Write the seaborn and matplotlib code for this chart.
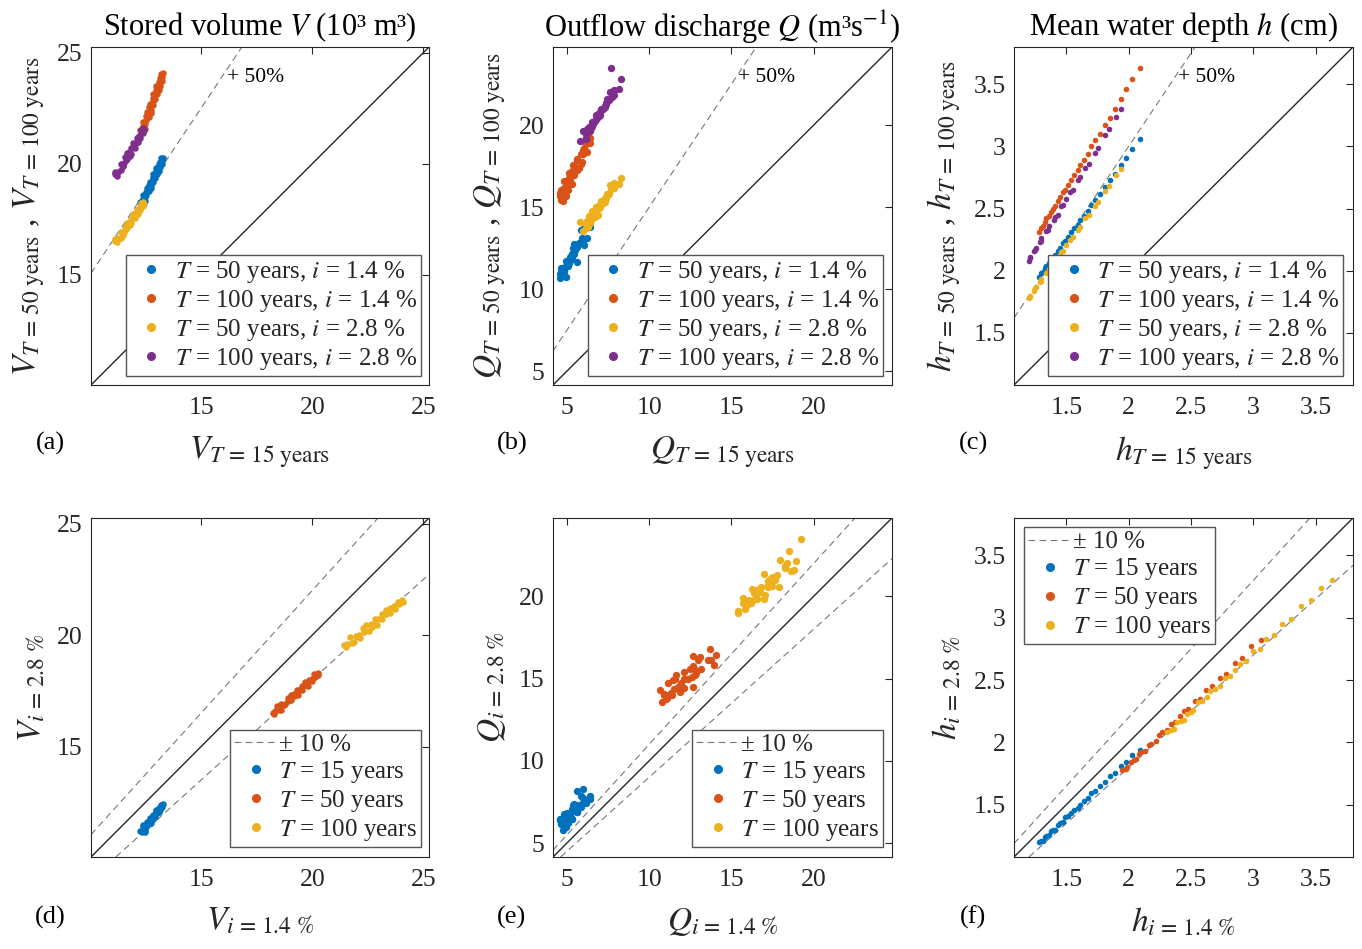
import matplotlib
matplotlib.use("Agg")
import matplotlib.pyplot as plt
import seaborn as sns
from matplotlib.lines import Line2D

# ---------------- data (paired Monte Carlo samples) ----------------
# Stored volume V (10^3 m^3)
V15_14 = [12.35, 12.27, 12.46, 12.38, 12.50, 12.39, 12.53, 12.64, 12.51, 12.73, 12.55, 12.73, 12.68, 12.85, 12.70,
          12.85, 12.95, 12.83, 12.83, 13.01, 12.98, 13.09, 12.99, 13.14, 13.10, 13.26, 13.14, 13.26, 13.20, 13.28]
V50_14 = [18.22, 18.28, 18.34, 18.43, 18.49, 18.58, 18.60, 18.76, 18.75, 18.91, 18.90, 19.04, 19.04, 19.18, 19.17,
          19.30, 19.37, 19.40, 19.54, 19.55, 19.69, 19.67, 19.82, 19.84, 19.98, 19.99, 20.10, 20.14, 20.25, 20.28]
V100_14 = [21.43, 21.51, 21.58, 21.70, 21.77, 21.89, 21.96, 22.08, 22.15, 22.27, 22.34, 22.43, 22.53, 22.62, 22.69,
           22.81, 22.91, 22.94, 23.12, 23.13, 23.31, 23.30, 23.50, 23.51, 23.69, 23.70, 23.85, 23.89, 24.04, 24.08]
V15_28 = [11.15, 11.23, 11.15, 11.47, 11.25, 11.39, 11.41, 11.53, 11.51, 11.59, 11.62, 11.67, 11.66, 11.77, 11.81,
          11.86, 11.83, 11.88, 11.94, 12.03, 12.11, 12.09, 12.15, 12.16, 12.25, 12.27, 12.30, 12.38, 12.39, 12.42]
V50_28 = [16.51, 16.47, 16.61, 16.80, 16.65, 16.64, 16.93, 16.91, 16.86, 17.17, 17.06, 17.32, 17.10, 17.34, 17.26,
          17.52, 17.32, 17.55, 17.72, 17.54, 17.90, 17.76, 17.73, 17.97, 18.05, 17.94, 18.24, 18.10, 18.29, 18.21]
V100_28 = [19.55, 19.47, 19.61, 19.90, 19.65, 19.70, 19.97, 20.02, 19.89, 20.30, 20.15, 20.47, 20.20, 20.51, 20.36,
           20.73, 20.43, 20.70, 20.93, 20.72, 21.14, 20.94, 20.97, 21.22, 21.31, 21.16, 21.50, 21.40, 21.59, 21.50]

# Outflow discharge Q (m^3/s)
Q15_14 = [4.61, 4.57, 4.76, 4.59, 4.74, 4.91, 4.66, 4.87, 4.82, 5.04, 4.84, 5.06, 5.03, 4.91, 5.20, 5.12, 5.31, 5.14,
          5.31, 5.16, 5.44, 5.33, 5.42, 5.60, 5.39, 5.58, 5.46, 5.71, 5.63, 5.86, 5.63, 5.90, 5.99, 5.88, 6.03, 5.96,
          6.22, 6.18, 6.37, 6.39]
Q50_14 = [11.02, 10.66, 10.92, 10.92, 11.22, 10.76, 11.30, 11.34, 11.08, 11.38, 11.13, 11.53, 11.44, 11.74, 11.93,
          11.56, 11.85, 11.72, 12.14, 11.85, 12.11, 12.11, 12.73, 11.64, 12.48, 12.68, 12.37, 12.82, 12.59, 12.81,
          12.68, 13.14, 12.96, 13.60, 12.66, 13.67, 13.10, 13.91, 14.03, 13.78]
Q100_14 = [15.42, 15.70, 15.39, 15.84, 15.95, 15.68, 16.02, 15.80, 16.19, 16.06, 16.56, 16.48, 16.24, 16.54, 16.38,
           16.78, 16.41, 17.06, 16.99, 16.73, 17.23, 17.21, 16.97, 17.28, 17.54, 17.23, 17.45, 17.40, 17.89, 17.63,
           17.93, 17.76, 18.23, 18.25, 18.63, 18.49, 18.36, 18.82, 18.91, 19.21]
Q15_28 = [6.16, 6.45, 5.82, 6.40, 6.14, 5.96, 6.24, 6.17, 6.25, 6.19,
          6.75, 6.51, 6.82, 6.34, 6.55, 6.79, 6.46, 6.56, 6.47, 6.69,
          6.92, 7.08, 7.35, 7.03, 7.30, 6.86, 6.99, 7.30, 6.87, 7.19,
          8.18, 7.38, 7.74, 7.83, 7.54, 8.30, 7.63, 7.46, 7.84, 7.70]
Q50_28 = [13.73, 14.30, 14.07, 14.02, 14.01, 13.56, 14.12, 14.05, 13.80, 13.99,
          14.72, 14.36, 14.93, 14.45, 14.74, 14.99, 14.19, 14.47, 14.44, 14.41,
          14.97, 15.38, 15.60, 15.21, 15.56, 14.51, 15.00, 15.33, 15.08, 15.24,
          16.40, 15.56, 16.14, 16.14, 15.77, 16.80, 16.33, 15.81, 16.44, 16.11]
Q100_28 = [19.12, 19.90, 19.01, 19.65, 19.45, 19.62, 19.71, 19.24, 19.58, 19.79,
           20.39, 19.97, 20.46, 19.86, 20.21, 20.59, 19.85, 20.07, 19.86, 20.26,
           20.56, 20.95, 21.35, 20.79, 21.15, 20.69, 20.64, 21.09, 20.55, 20.97,
           22.18, 21.28, 21.72, 21.86, 21.52, 22.78, 22.04, 21.57, 22.16, 23.50]

# Mean water depth h (cm)
h15_14 = [1.28, 1.30, 1.31, 1.33, 1.34, 1.36, 1.38, 1.39, 1.41, 1.43, 1.45, 1.47, 1.49, 1.51, 1.54,
          1.56, 1.59, 1.61, 1.64, 1.67, 1.70, 1.73, 1.77, 1.81, 1.85, 1.89, 1.94, 1.98, 2.03, 2.09]
h50_14 = [1.95, 1.98, 1.99, 2.02, 2.04, 2.06, 2.08, 2.10, 2.13, 2.16, 2.18, 2.22, 2.24, 2.27, 2.31,
          2.34, 2.37, 2.41, 2.44, 2.48, 2.53, 2.57, 2.62, 2.67, 2.73, 2.78, 2.85, 2.91, 2.98, 3.06]
h100_14 = [2.31, 2.34, 2.36, 2.39, 2.42, 2.44, 2.47, 2.50, 2.52, 2.56, 2.59, 2.63, 2.65, 2.69, 2.73,
           2.77, 2.81, 2.85, 2.89, 2.94, 3.00, 3.05, 3.10, 3.17, 3.23, 3.30, 3.38, 3.46, 3.54, 3.63]
h15_28 = [1.20, 1.21, 1.21, 1.24, 1.25, 1.26, 1.29, 1.30, 1.30, 1.34, 1.35, 1.36, 1.40, 1.41, 1.43,
          1.46, 1.47, 1.50, 1.53, 1.55, 1.59, 1.61, 1.65, 1.68, 1.73, 1.75, 1.81, 1.84, 1.90, 1.94]
h50_28 = [1.78, 1.79, 1.80, 1.84, 1.86, 1.87, 1.91, 1.92, 1.93, 1.98, 1.99, 2.01, 2.06, 2.08, 2.10,
          2.15, 2.16, 2.21, 2.25, 2.27, 2.33, 2.35, 2.42, 2.45, 2.52, 2.55, 2.64, 2.68, 2.77, 2.82]
h100_28 = [2.08, 2.10, 2.11, 2.16, 2.17, 2.18, 2.23, 2.24, 2.26, 2.32, 2.33, 2.36, 2.41, 2.43, 2.45,
           2.52, 2.53, 2.58, 2.63, 2.65, 2.73, 2.75, 2.83, 2.86, 2.95, 2.99, 3.09, 3.14, 3.24, 3.30]

titles = ["Stored volume $V$ (10\u00b3 m\u00b3)", "Outflow discharge $Q$ (m\u00b3s$^{-1}$)",
          "Mean water depth $h$ (cm)"]
symbols = ["V", "Q", "h"]
limits = [(10.05, 25.25), (4.15, 24.76), (1.08, 3.80)]
tick_values = [[15, 20, 25], [5, 10, 15, 20], [1.5, 2, 2.5, 3, 3.5]]
tick_labels = [["15", "20", "25"], ["5", "10", "15", "20"], ["1.5", "2", "2.5", "3", "3.5"]]
legend_top = ["$T$ = 50 years, $i$ = 1.4 %", "$T$ = 100 years, $i$ = 1.4 %",
              "$T$ = 50 years, $i$ = 2.8 %", "$T$ = 100 years, $i$ = 2.8 %"]
legend_bot = ["\u00b1 10 %", "$T$ = 15 years", "$T$ = 50 years", "$T$ = 100 years"]
panel_tags = ["(a)", "(b)", "(c)", "(d)", "(e)", "(f)"]

data = {
    "V": dict(s15_14=V15_14, s50_14=V50_14, s100_14=V100_14, s15_28=V15_28, s50_28=V50_28, s100_28=V100_28),
    "Q": dict(s15_14=Q15_14, s50_14=Q50_14, s100_14=Q100_14, s15_28=Q15_28, s50_28=Q50_28, s100_28=Q100_28),
    "h": dict(s15_14=h15_14, s50_14=h50_14, s100_14=h100_14, s15_28=h15_28, s50_28=h50_28, s100_28=h100_28),
}

# ---------------- style ----------------
sns.set_style("white")
plt.rcParams["font.family"] = ["Liberation Serif", "DejaVu Serif"]
plt.rcParams["mathtext.fontset"] = "stix"
plt.rcParams["axes.unicode_minus"] = False

BLUE, ORANGE, YELLOW, PURPLE = "#0072BD", "#D95319", "#EDB120", "#7E2F8E"
AXC = "#262626"
DASH = "#777777"
DASHSTYLE = (0, (6, 4))

W, H = 1362, 949
fig = plt.figure(figsize=(W / 100, H / 100), dpi=100)

cols_px = [(91, 429), (553, 892), (1014, 1353)]
rows_px = [(47, 385), (518, 857)]
ylab_x = [-0.130, -0.133, -0.150]
tag_x = [50, 512, 973]
tag_y = [443, 917]
leg_anchor_top = [(0.976, 0.027), (0.973, 0.027), (0.971, 0.027)]
leg_anchor_bot = [("lower right", (0.976, 0.030)), ("lower right", (0.973, 0.030)), ("upper left", (0.030, 0.973))]
txt50_x = [0.402, 0.546, 0.484]
marker_s = [22, 28, 16]


def style_axes(ax, lim, ticks, labels):
    ax.set_xlim(lim)
    ax.set_ylim(lim)
    ax.set_xticks(ticks)
    ax.set_yticks(ticks)
    ax.set_xticklabels(labels)
    ax.set_yticklabels(labels)
    ax.tick_params(axis="both", direction="in", length=5, width=0.8, top=True, right=True,
                   labelsize=18.5, colors=AXC)
    ax.tick_params(axis="x", pad=9)
    ax.tick_params(axis="y", pad=6)
    for sp in ax.spines.values():
        sp.set_color(AXC)
        sp.set_linewidth(0.8)
        sp.set_visible(True)
    ax.grid(False)


def dot(c):
    return Line2D([], [], marker="o", ls="none", color=c, markersize=5.5)


for j in range(3):
    sym = symbols[j]
    d = data[sym]
    l, r = cols_px[j]
    for irow in range(2):
        t, b = rows_px[irow]
        ax = fig.add_axes([l / W, 1 - b / H, (r - l) / W, (b - t) / H])
        style_axes(ax, limits[j], tick_values[j], tick_labels[j])
        ax.axline((0, 0), slope=1, color=AXC, lw=1.0, zorder=1)
        s = marker_s[j]
        if irow == 0:
            ax.axline((0, 0), slope=1.5, color=DASH, lw=0.8, ls=DASHSTYLE, zorder=1)
            series = [(d["s15_14"], d["s50_14"], BLUE), (d["s15_14"], d["s100_14"], ORANGE),
                      (d["s15_28"], d["s50_28"], YELLOW), (d["s15_28"], d["s100_28"], PURPLE)]
            for x, y, c in series:
                sns.scatterplot(x=x, y=y, color=c, s=s, linewidth=0, ax=ax, legend=False, zorder=3)
            ax.text(txt50_x[j], 0.911, "+ 50%", transform=ax.transAxes, fontsize=15.5,
                    ha="left", va="center", color="black")
            handles = [dot(BLUE), dot(ORANGE), dot(YELLOW), dot(PURPLE)]
            leg = ax.legend(handles, legend_top, loc="lower right", bbox_to_anchor=leg_anchor_top[j],
                            fontsize=18, frameon=True, fancybox=False, edgecolor="#555555", framealpha=1,
                            borderpad=0.15, labelspacing=0.12, handlelength=1.75, handletextpad=0.05,
                            borderaxespad=0)
            ax.set_xlabel(f"${sym}_{{T\\,=\\,15\\ \\mathrm{{years}}}}$", fontsize=24, color=AXC)
            ax.set_ylabel(f"${sym}_{{T\\,=\\,50\\ \\mathrm{{years}}}}$ , ${sym}_{{T\\,=\\,100\\ \\mathrm{{years}}}}$",
                          fontsize=24, color=AXC)
            ax.text(0.5, 1 + (47 - 27) / 338, titles[j], transform=ax.transAxes, fontsize=22,
                    ha="center", va="center", color="black")
        else:
            ax.axline((0, 0), slope=1.1, color=DASH, lw=0.8, ls=DASHSTYLE, zorder=1)
            ax.axline((0, 0), slope=0.9, color=DASH, lw=0.8, ls=DASHSTYLE, zorder=1)
            series = [(d["s15_14"], d["s15_28"], BLUE), (d["s50_14"], d["s50_28"], ORANGE),
                      (d["s100_14"], d["s100_28"], YELLOW)]
            for x, y, c in series:
                sns.scatterplot(x=x, y=y, color=c, s=s, linewidth=0, ax=ax, legend=False, zorder=3)
            handles = [Line2D([], [], color=DASH, lw=0.8, ls=DASHSTYLE), dot(BLUE), dot(ORANGE), dot(YELLOW)]
            loc, anc = leg_anchor_bot[j]
            leg = ax.legend(handles, legend_bot, loc=loc, bbox_to_anchor=anc,
                            fontsize=18, frameon=True, fancybox=False, edgecolor="#555555", framealpha=1,
                            borderpad=0.15, labelspacing=0.12, handlelength=1.75, handletextpad=0.05,
                            borderaxespad=0)
            ax.set_xlabel(f"${sym}_{{i\\,=\\,1.4\\ \\%}}$", fontsize=24, color=AXC)
            ax.set_ylabel(f"${sym}_{{i\\,=\\,2.8\\ \\%}}$", fontsize=24, color=AXC)
        leg.get_frame().set_linewidth(1.0)
        leg.set_zorder(5)
        ax.xaxis.set_label_coords(0.5, -0.145)
        ax.yaxis.set_label_coords(ylab_x[j], 0.5)
        fig.text(tag_x[j] / W, 1 - tag_y[irow] / H, panel_tags[irow * 3 + j], fontsize=19,
                 ha="center", va="center", color="black")

fig.savefig("out.png", dpi=100)
